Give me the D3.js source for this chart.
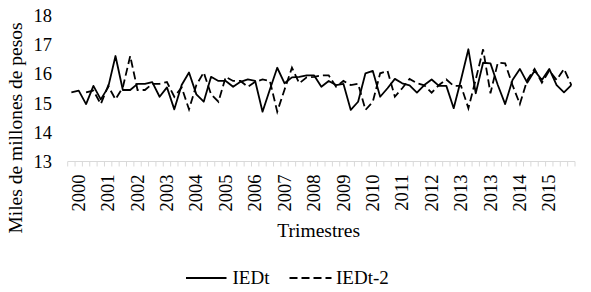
<!DOCTYPE html>
<html><head><meta charset="utf-8">
<script src="https://cdn.jsdelivr.net/npm/d3@7/dist/d3.min.js"></script>
<style>body{margin:0;background:#fff}svg{display:block}text{font-family:"Liberation Serif","Times New Roman",serif !important;fill:#000}</style>
</head><body><svg id="c" width="591" height="292"></svg>
<script>
// Quarterly observations (69 categories)
const iedt = [15.36,15.42,14.96,15.58,15.12,15.53,16.6,15.44,15.44,15.65,15.65,15.71,15.21,15.53,14.78,15.61,16.04,15.29,15.04,15.89,15.75,15.75,15.55,
15.72,15.80,15.75,14.70,15.46,16.2,15.67,15.87,15.89,15.94,15.94,15.55,15.75,15.61,15.65,14.76,15.04,16.01,16.09,15.21,15.50,15.82,15.67,
15.6,15.35,15.61,15.8,15.58,15.58,14.82,15.8,16.83,15.33,16.37,16.35,15.61,14.96,15.78,16.16,15.69,16.1,15.78,16.16,15.61,15.36,15.61];
const iedtLag2 = [null,null,15.36,15.42,14.96,15.58,15.12,15.53,16.6,15.44,15.44,15.65,15.65,15.71,15.21,15.53,14.78,15.61,16.04,15.29,15.04,15.89,15.75,15.75,15.55,
15.72,15.80,15.75,14.70,15.46,16.2,15.67,15.87,15.89,15.94,15.94,15.55,15.75,15.61,15.65,14.76,15.04,16.01,16.09,15.21,15.50,15.82,15.67,
15.6,15.35,15.61,15.8,15.58,15.58,14.82,15.8,16.83,15.33,16.37,16.35,15.61,14.96,15.78,16.16,15.69,16.1,15.78,16.16,15.61];
const yearLabels = ["2000","2001","2002","2003","2004","2005","2006","2007","2008","2009","2010","2011","2012","2013","2013","2014","2015"];
const yTicks = [13,14,15,16,17,18];
const seriesNames = ["IEDt","IEDt-2"];

const FONT = '"Liberation Serif","Times New Roman",serif';
const categories = d3.range(iedt.length);
const svg = d3.select("#c");
const pLeft = 67.7, pRight = 575, pTop = 15, pBottom = 161.5;
const x = d3.scaleBand().domain(categories).range([pLeft, pRight]).padding(0);
const y = d3.scaleLinear().domain([13,18]).range([pBottom, pTop]);

// x axis line + tick marks at category boundaries
const g = svg.append("g");
g.append("line").attr("x1", pLeft).attr("x2", pRight).attr("y1", pBottom).attr("y2", pBottom)
  .attr("stroke", "#d9d9d9").attr("stroke-width", 1);
const bounds = categories.map(c => x(c)).concat([x(categories[categories.length-1]) + x.bandwidth()]);
g.selectAll("line.tk").data(bounds).join("line").attr("class","tk")
  .attr("x1", d => d).attr("x2", d => d).attr("y1", pBottom).attr("y2", pBottom + 5)
  .attr("stroke", "#d9d9d9").attr("stroke-width", 1);

// x labels: every 4th category starting at 1
const labelCats = yearLabels.map((l, k) => 1 + 4 * k);
const xAxis = d3.axisBottom(x).tickValues(labelCats).tickSize(0).tickFormat((d) => yearLabels[(d - 1) / 4]);
const xa = svg.append("g").attr("transform", `translate(0,${pBottom})`).call(xAxis)
  .attr("font-family", FONT).attr("font-size", 18.5);
xa.select(".domain").remove();
xa.selectAll("text").style("font-family", FONT).style("font-size", "18.5px")
  .attr("transform", "rotate(-90)").attr("text-anchor", "end").attr("dy", "0.33em")
  .attr("x", -13).attr("y", 0);

// y axis labels
const yAxis = d3.axisLeft(y).tickValues(yTicks).tickSize(0).tickPadding(0).tickFormat(d3.format("d"));
const ya = svg.append("g").attr("transform", `translate(52,0)`).call(yAxis)
  .attr("font-family", FONT).attr("font-size", 18.5);
ya.select(".domain").remove();
ya.selectAll("text").style("font-family", FONT).style("font-size", "18.5px").attr("dy", "0.33em");

// lines
const line = d3.line().defined(d => d != null).x((d, i) => x(i) + x.bandwidth()/2).y(d => y(d));
svg.append("path").attr("d", line(iedt)).attr("fill","none").attr("stroke","#000").attr("stroke-width",1.8).attr("stroke-linejoin","round");
svg.append("path").attr("d", line(iedtLag2)).attr("fill","none").attr("stroke","#000").attr("stroke-width",1.8)
  .attr("stroke-dasharray","8,4");

// titles
svg.append("text").attr("x", 318.7).attr("y", 236.5).attr("text-anchor","middle").style("font-size","19.5px").text("Trimestres");
svg.append("text").attr("transform","translate(22,128) rotate(-90)").attr("text-anchor","middle").style("font-size","19.5px").text("Miles de millones de pesos");

// legend
const lg = svg.append("g");
lg.append("line").attr("x1",186).attr("x2",226.5).attr("y1",278).attr("y2",278).attr("stroke","#000").attr("stroke-width",1.8);
lg.append("text").attr("x",232.5).attr("y",284).style("font-size","19px").text(seriesNames[0]);
lg.append("line").attr("x1",289.5).attr("x2",331.5).attr("y1",278).attr("y2",278).attr("stroke","#000").attr("stroke-width",1.8).attr("stroke-dasharray","8,4");
lg.append("text").attr("x",336).attr("y",284).style("font-size","19px").text(seriesNames[1]);
</script></body></html>
